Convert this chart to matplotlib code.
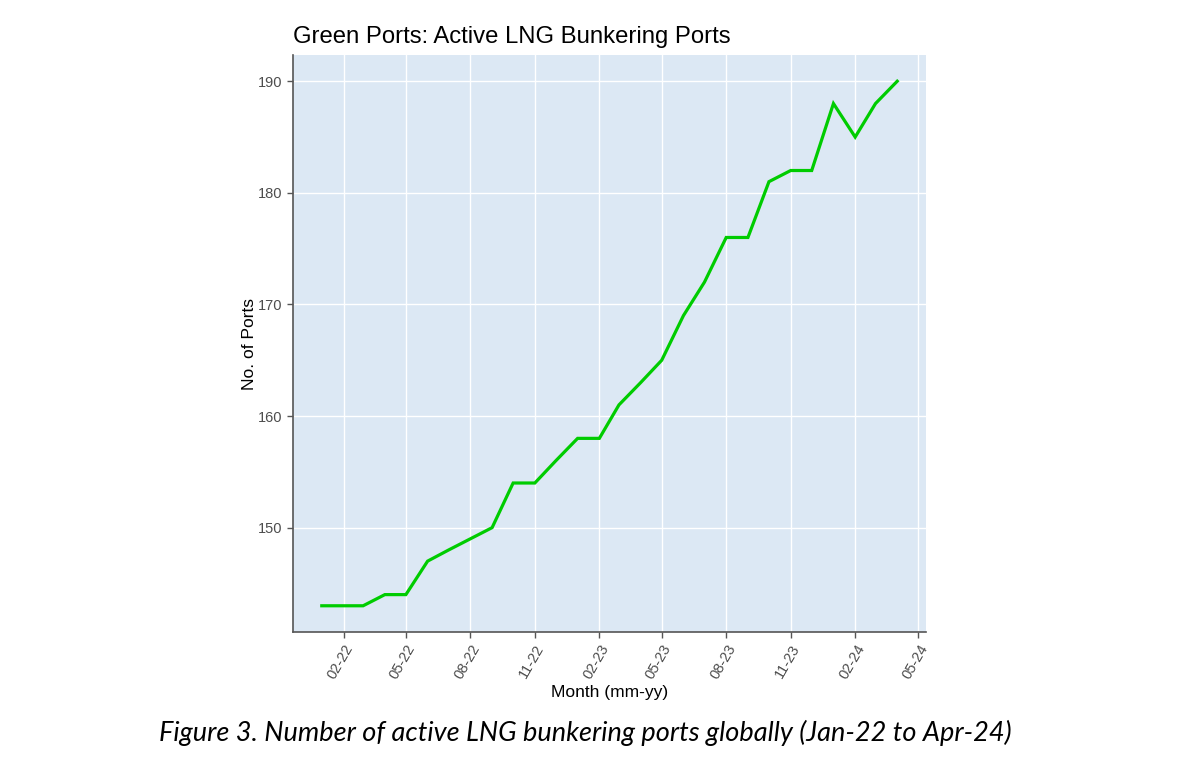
import numpy as np
import pandas as pd
import matplotlib
matplotlib.use("Agg")
import matplotlib.pyplot as plt
import matplotlib.dates as mdates

# Data (monthly, Jan-22 to Apr-24)
months = pd.date_range("2022-01-01", "2024-04-01", freq="MS")
ports = [143, 143, 143, 144, 144, 147, 148, 149, 150, 154, 154, 156, 158, 158,
         161, 163, 165, 169, 172, 176, 176, 181, 182, 182, 188, 185, 188, 190]
tick_months = pd.date_range("2022-02-01", "2024-05-01", freq="3MS")
y_ticks = [150, 160, 170, 180, 190]

title = "Green Ports: Active LNG Bunkering Ports"
caption = "Figure 3. Number of active LNG bunkering ports globally (Jan-22 to Apr-24)"

plt.rcParams['font.family'] = ['Liberation Sans', 'DejaVu Sans']

fig = plt.figure(figsize=(12, 7.71), dpi=100)
ax = fig.add_axes([293 / 1200, 1 - 632 / 771, (926 - 293) / 1200, (632 - 55) / 771])

ax.plot(months, ports, color="#00CC00", linewidth=2.3, solid_joinstyle="miter")

# ggplot-like 5% expansion
xn = mdates.date2num(months)
span = xn[-1] - xn[0]
ax.set_xlim(xn[0] - 0.05 * span, xn[-1] + 0.05 * span)
yspan = max(ports) - min(ports)
ax.set_ylim(min(ports) - 0.05 * yspan, max(ports) + 0.05 * yspan)

ax.set_facecolor("#DCE8F4")
ax.set_xticks(tick_months)
ax.xaxis.set_major_formatter(mdates.DateFormatter("%m-%y"))
ax.set_yticks(y_ticks)
ax.grid(True, color="white", linewidth=1.0)
ax.set_axisbelow(True)

for s in ["top", "right"]:
    ax.spines[s].set_visible(False)
for s in ["left", "bottom"]:
    ax.spines[s].set_color("#555555")
    ax.spines[s].set_linewidth(1.2)

ax.tick_params(axis="both", colors="#555555", labelcolor="#4D4D4D",
               labelsize=10.5, length=4, width=1)
plt.setp(ax.get_xticklabels(), rotation=60, ha="right", rotation_mode="anchor")

ax.set_ylabel("No. of Ports", fontsize=12.5, color="black", labelpad=1)
ax.set_xlabel("Month (mm-yy)", fontsize=12.5, color="black", labelpad=2)
ax.set_title(title, loc="left", fontsize=17.2, color="black", pad=9)

fig.text(0.4875, 1 - 733 / 771, caption, ha="center", va="center",
         fontsize=19.5, style="italic", family=["Lato", "DejaVu Sans"])

fig.savefig("out.png", dpi=100)
